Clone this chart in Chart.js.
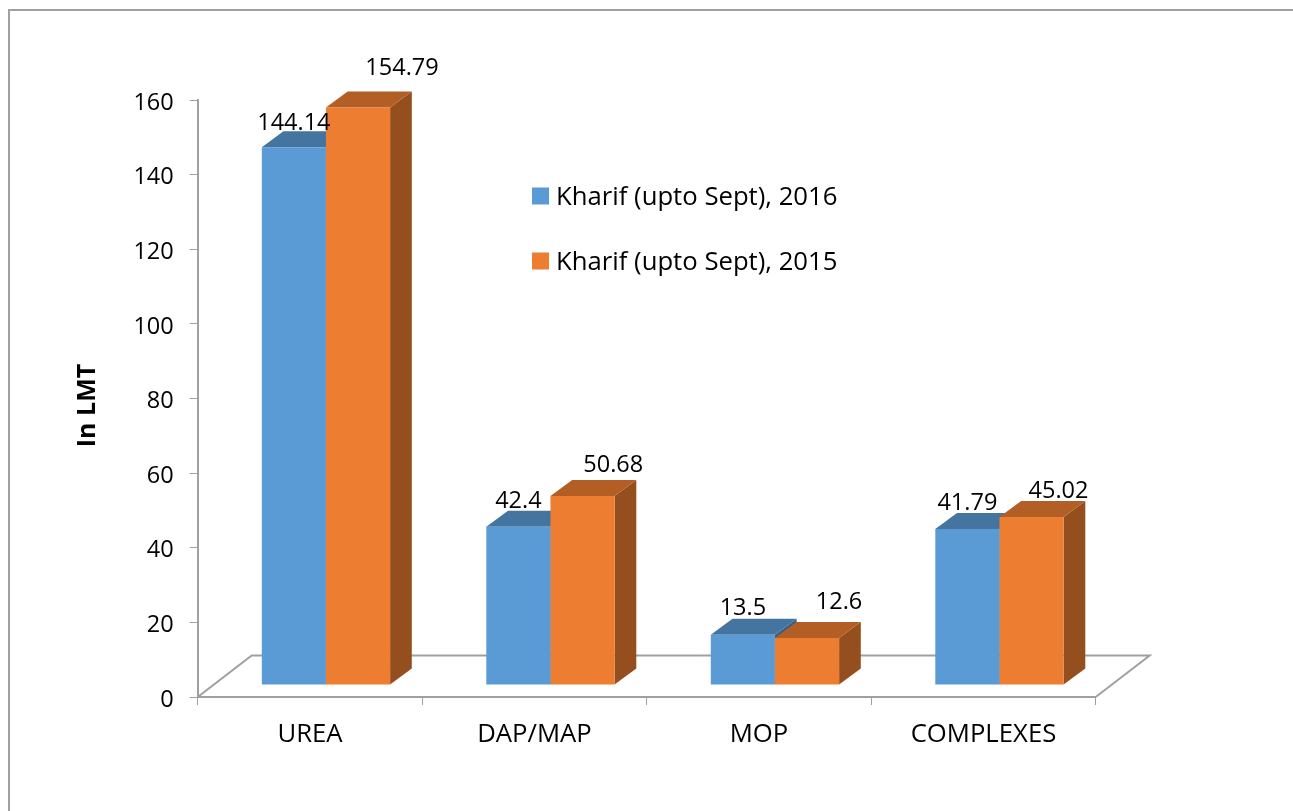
<!DOCTYPE html>
<html>
<head>
<meta charset="utf-8">
<title>Kharif fertilizer availability</title>
<script src="https://cdn.jsdelivr.net/npm/chart.js@4"></script>
<style>
  html, body { margin: 0; padding: 0; background: #fff; overflow: hidden; }
  #wrap { position: relative; width: 1293px; height: 811px; }
  #frame { position: absolute; left: 8px; top: 9px; right: 0; bottom: 0; border-left: 2px solid #a0a0a0; border-top: 2px solid #a0a0a0; }
  canvas { position: absolute; left: 0; top: 0; }
</style>
</head>
<body>
<div id="wrap">
  <div id="frame"></div>
  <canvas id="chart" width="1293" height="811"></canvas>
</div>
<script>
const categories = ["UREA", "DAP/MAP", "MOP", "COMPLEXES"];
const seriesNames = ["Kharif (upto Sept), 2016", "Kharif (upto Sept), 2015"];
const values2016 = [144.14, 42.4, 13.5, 41.79];
const values2015 = [154.79, 50.68, 12.6, 45.02];
const yTicks = [0, 20, 40, 60, 80, 100, 120, 140, 160];
const yTitle = "In LMT";

const FONT = "Open Sans";
const NUM_SIZE = 23.5;
const TEXT_SIZE = 25.7;
const AXIS = "#a0a0a0";
const FRONT = ["#5b9bd5", "#ed7d31"];
const TOP = ["#4474a0", "#b25e25"];
const SIDE = ["#396186", "#954f1f"];

// the bars stand on a floor, so their front faces sit in from the axis
const BAR_SHIFT = { x: 16, y: -12 };
const BAR_DEPTH = { x: 21.7, y: -16 };
const FLOOR_DEPTH = { x: 54, y: -41.5 };
// data labels were dragged by hand in the original: [dx, dy from front top centre]
const LABEL_OFFSETS = [
  [[0, -23.5], [0, -25], [0, -26], [0, -25.4]],
  [[44, -38.7], [30.7, -30.5], [32, -35.3], [27, -25.3]],
];

function poly(ctx, color, pts) {
  ctx.fillStyle = color;
  ctx.beginPath();
  ctx.moveTo(pts[0][0], pts[0][1]);
  for (let i = 1; i < pts.length; i++) ctx.lineTo(pts[i][0], pts[i][1]);
  ctx.closePath();
  ctx.fill();
}

const bars3d = {
  id: "bars3d",
  beforeDatasetsDraw(chart) {
    const ctx = chart.ctx;
    const area = chart.chartArea;
    ctx.save();
    // floor outline
    ctx.strokeStyle = AXIS;
    ctx.lineWidth = 2;
    ctx.beginPath();
    ctx.moveTo(area.left, area.bottom);
    ctx.lineTo(area.left + FLOOR_DEPTH.x, area.bottom + FLOOR_DEPTH.y);
    ctx.lineTo(area.right + FLOOR_DEPTH.x, area.bottom + FLOOR_DEPTH.y);
    ctx.lineTo(area.right, area.bottom);
    ctx.stroke();
    // stays translated until afterDatasetsDraw so the library's bars move too
    ctx.translate(BAR_SHIFT.x, BAR_SHIFT.y);
    const dx = BAR_DEPTH.x;
    const dy = BAR_DEPTH.y;
    for (let c = 0; c < categories.length; c++) {
      for (let d = 0; d < 2; d++) {
        const bar = chart.getDatasetMeta(d).data[c];
        const l = bar.x - bar.width / 2;
        const r = bar.x + bar.width / 2;
        poly(ctx, SIDE[d], [[r, bar.y], [r + dx, bar.y + dy], [r + dx, bar.base + dy], [r, bar.base]]);
        poly(ctx, TOP[d], [[l, bar.y], [l + dx, bar.y + dy], [r + dx, bar.y + dy], [r, bar.y]]);
      }
    }
  },
  afterDatasetsDraw(chart) {
    chart.ctx.restore();
  },
  afterDraw(chart) {
    const ctx = chart.ctx;
    ctx.save();
    ctx.fillStyle = "#000";
    ctx.font = NUM_SIZE + "px " + FONT;
    ctx.textAlign = "center";
    ctx.textBaseline = "middle";
    // data labels
    chart.data.datasets.forEach((ds, d) => {
      chart.getDatasetMeta(d).data.forEach((bar, c) => {
        const off = LABEL_OFFSETS[d][c];
        ctx.fillText(String(ds.data[c]), bar.x + BAR_SHIFT.x + off[0], bar.y + BAR_SHIFT.y + off[1]);
      });
    });
    // legend sits inside the plot
    ctx.textAlign = "left";
    ctx.font = TEXT_SIZE + "px " + FONT;
    chart.data.datasets.forEach((ds, d) => {
      const y = 196 + d * 65;
      ctx.fillStyle = ds.backgroundColor;
      ctx.fillRect(532, y - 8.5, 17, 17);
      ctx.fillStyle = "#000";
      ctx.fillText(ds.label, 556, y + 2);
    });
    // axis title is off-centre in the original
    ctx.translate(87.5, 405.5);
    ctx.rotate(-Math.PI / 2);
    ctx.textAlign = "center";
    ctx.font = "bold 25px " + FONT;
    ctx.fillText(yTitle, 0, 0);
    ctx.restore();
  },
};

new Chart(document.getElementById("chart"), {
  type: "bar",
  data: {
    labels: categories,
    datasets: [
      { label: seriesNames[0], data: values2016, backgroundColor: FRONT[0] },
      { label: seriesNames[1], data: values2015, backgroundColor: FRONT[1] },
    ],
  },
  options: {
    responsive: false,
    animation: false,
    layout: { padding: { left: 0, top: 100, right: 197.3, bottom: 0 } },
    datasets: { bar: { barPercentage: 1, categoryPercentage: 0.5715, clip: false } },
    plugins: { legend: { display: false }, tooltip: { enabled: false } },
    scales: {
      x: {
        grid: { drawOnChartArea: false, tickLength: 8, tickColor: AXIS, tickWidth: 1 },
        border: { color: AXIS, width: 2 },
        ticks: { color: "#000", font: { family: FONT, size: TEXT_SIZE }, padding: 14, maxRotation: 0 },
        afterFit(scale) { scale.height = 114; },
      },
      y: {
        min: 0,
        max: 160,
        afterBuildTicks(scale) { scale.ticks = yTicks.map((v) => ({ value: v })); },
        grid: { drawOnChartArea: false, tickLength: 8, tickColor: AXIS, tickWidth: 1 },
        border: { color: AXIS, width: 2 },
        ticks: { color: "#000", font: { family: FONT, size: NUM_SIZE }, padding: 16, labelOffset: 3 },
        afterFit(scale) { scale.width = 197.7; },
      },
    },
  },
  plugins: [bars3d],
});
</script>
</body>
</html>
